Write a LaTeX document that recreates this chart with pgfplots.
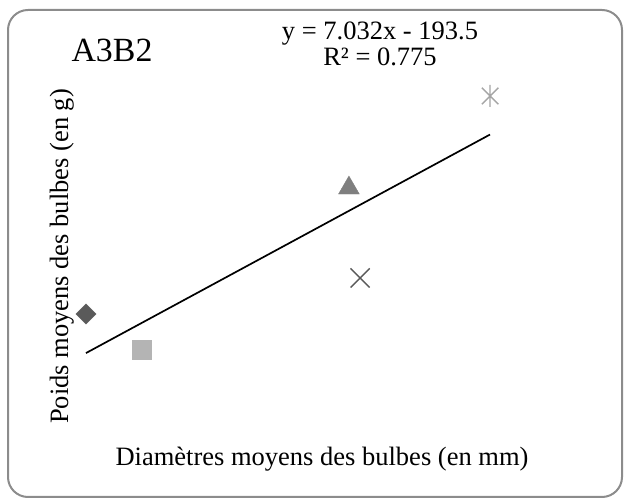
\documentclass[border=0pt]{standalone}
\usepackage{fontspec}
\setmainfont{Liberation Serif}
\usepackage{pgfplots}
\pgfplotsset{compat=1.18}
\usetikzlibrary{plotmarks}
\definecolor{bordergray}{HTML}{8C8C8C}
\definecolor{cdiam}{HTML}{5A5A5A}
\definecolor{csq}{HTML}{B4B4B4}
\definecolor{ctri}{HTML}{7F7F7F}
\definecolor{cx}{HTML}{595959}
\definecolor{cstar}{HTML}{A5A5A5}
\pgfdeclareplotmark{xstar}{%
  \pgfpathmoveto{\pgfqpoint{0pt}{\pgfplotmarksize}}%
  \pgfpathlineto{\pgfqpoint{0pt}{-\pgfplotmarksize}}%
  \pgfpathmoveto{\pgfqpoint{-.75\pgfplotmarksize}{-.75\pgfplotmarksize}}%
  \pgfpathlineto{\pgfqpoint{.75\pgfplotmarksize}{.75\pgfplotmarksize}}%
  \pgfpathmoveto{\pgfqpoint{-.75\pgfplotmarksize}{.75\pgfplotmarksize}}%
  \pgfpathlineto{\pgfqpoint{.75\pgfplotmarksize}{-.75\pgfplotmarksize}}%
  \pgfusepathqstroke}
\begin{document}
\begin{tikzpicture}[x=1bp,y=1bp]
\useasboundingbox (0,0) rectangle (624,500);
\draw[bordergray, line width=2bp, rounded corners=20bp] (8,3) rectangle (622,490);
\begin{axis}[
  at={(23.85bp,54.76bp)}, anchor=south west,
  scale only axis, width=528.31bp, height=382.46bp,
  xmin=31, xmax=48, ymin=0, ymax=160,
  axis line style={draw=none}, ticks=none, clip=false,
]
\addplot[black, line width=1.7bp] coordinates {(33,38.56) (46,129.97)};
\addplot[only marks, mark=square*, mark size=7.2bp, mark options={rotate=45, fill=cdiam, draw=cdiam}] coordinates {(33,54.9)};
\addplot[only marks, mark=square*, mark size=9.5bp, mark options={fill=csq, draw=csq}] coordinates {(34.80,39.83)};
\addplot[only marks, mark=triangle*, mark size=12bp, mark options={fill=ctri, draw=ctri}] coordinates {(41.46,107.6)};
\addplot[only marks, mark=x, mark size=13.5bp, mark options={draw=cx, line width=1.4bp}] coordinates {(41.82,70.0)};
\addplot[only marks, mark=xstar, mark size=11bp, mark options={draw=cstar, line width=1.4bp}] coordinates {(46.0,146.1)};
\end{axis}
\node[anchor=base, font=\fontsize{34}{38}\selectfont] at (112,438) {A3B2};
\node[anchor=base, font=\fontsize{26.6}{30}\selectfont] at (380,460) {y = 7.032x - 193.5};
\node[anchor=base, font=\fontsize{26.6}{30}\selectfont] at (380,434) {R² = 0.775};
\node[anchor=base, font=\fontsize{26.6}{30}\selectfont] at (322,34) {Diamètres moyens des bulbes (en mm)};
\node[anchor=base, rotate=90, font=\fontsize{26.6}{30}\selectfont] at (68,243.5) {Poids moyens des bulbes (en g)};
\end{tikzpicture}
\end{document}
